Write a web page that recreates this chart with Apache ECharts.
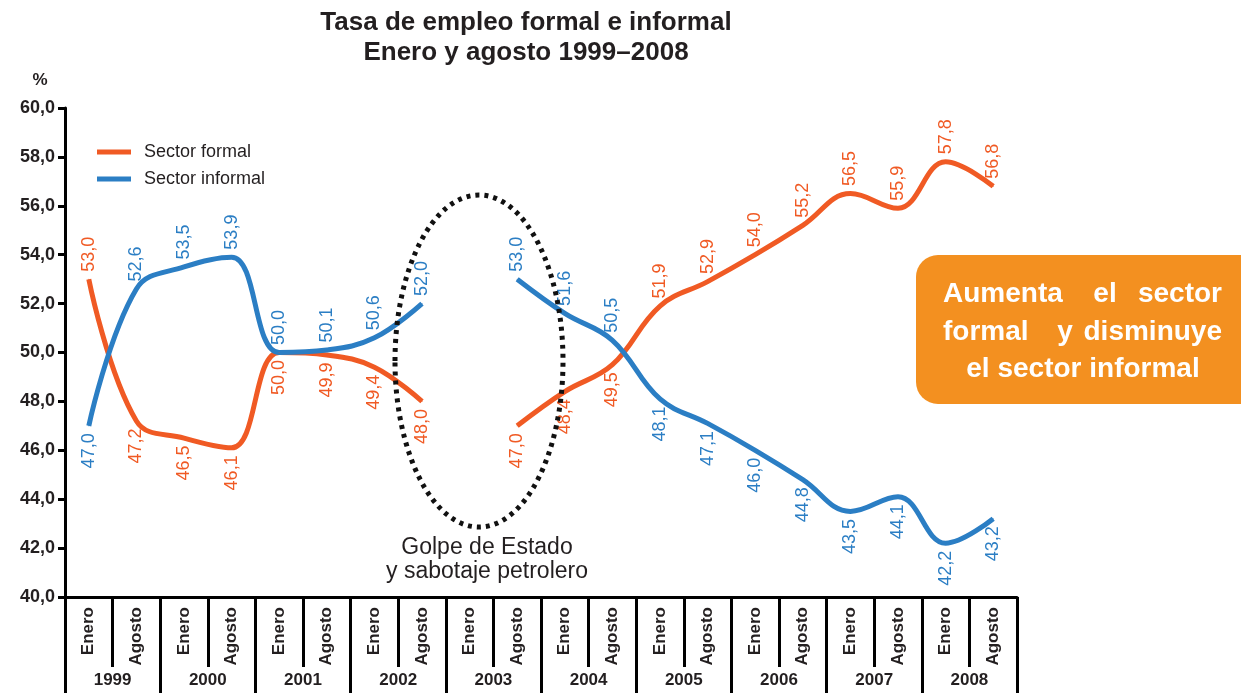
<!DOCTYPE html>
<html>
<head>
<meta charset="utf-8">
<script src="https://cdn.jsdelivr.net/npm/echarts@6/dist/echarts.min.js"></script>
<style>
  html, body { margin: 0; padding: 0; background: #fff; }
  #main { width: 1241px; height: 693px; }
</style>
</head>
<body>
<div id="main"></div>
<script>
var meses = ['Enero', 'Agosto', 'Enero', 'Agosto', 'Enero', 'Agosto', 'Enero', 'Agosto', 'Enero', 'Agosto',
             'Enero', 'Agosto', 'Enero', 'Agosto', 'Enero', 'Agosto', 'Enero', 'Agosto', 'Enero', 'Agosto'];
var anios = ['1999', '2000', '2001', '2002', '2003', '2004', '2005', '2006', '2007', '2008'];
var formal = [53.0, 47.2, 46.5, 46.1, 50.0, 49.9, 49.4, 48.0, null, 47.0,
              48.4, 49.5, 51.9, 52.9, 54.0, 55.2, 56.5, 55.9, 57.8, 56.8];
var informal = [47.0, 52.6, 53.5, 53.9, 50.0, 50.1, 50.6, 52.0, null, 53.0,
                51.6, 50.5, 48.1, 47.1, 46.0, 44.8, 43.5, 44.1, 42.2, 43.2];

var ROJO = '#f05a24';
var AZUL = '#2b7ec4';
var fuente = '"Liberation Sans", Arial, sans-serif';

// etiqueta girada arriba o abajo del punto
function conEtiqueta(arr, arriba) {
    return arr.map(function (v, i) {
        if (v === null) return null;
        var up = arriba(i);
        return {
            value: v,
            label: {
                position: up ? 'top' : 'bottom',
                align: up ? 'left' : 'right',
                verticalAlign: 'middle'
            }
        };
    });
}

var coma = function (p) { return p.value.toFixed(1).replace('.', ','); };

var myChart = echarts.init(document.getElementById('main'));

var cajaFont = 'bold 28px ' + fuente;

var option = {
    backgroundColor: '#fff',
    animation: false,
    grid: { left: 65, right: 224, top: 108, bottom: 96, containLabel: false },
    legend: {
        orient: 'vertical',
        left: 92,
        top: 138,
        itemGap: 9,
        icon: 'rect',
        itemWidth: 34,
        itemHeight: 5,
        textStyle: { fontFamily: fuente, fontSize: 18, color: '#231f20', padding: [0, 0, 0, 8] },
        data: ['Sector formal', 'Sector informal']
    },
    xAxis: [{
        type: 'category',
        data: meses,
        position: 'bottom',
        axisLine: { lineStyle: { color: '#000', width: 3 } },
        axisTick: { show: true, interval: 0, length: 70, lineStyle: { color: '#000', width: 3 } },
        axisLabel: {
            interval: 0, rotate: 90, margin: 10,
            fontFamily: fuente, fontWeight: 'bold', fontSize: 17, color: '#231f20'
        }
    }, {
        type: 'category',
        data: anios,
        position: 'bottom',
        axisLine: { show: false },
        axisTick: { show: true, interval: 0, length: 96, lineStyle: { color: '#000', width: 3 } },
        axisLabel: {
            interval: 0, margin: 75,
            fontFamily: fuente, fontWeight: 'bold', fontSize: 17, color: '#231f20'
        }
    }],
    yAxis: {
        type: 'value',
        min: 40,
        max: 60,
        interval: 2,
        splitLine: { show: false },
        axisLine: { show: true, lineStyle: { color: '#000', width: 3 } },
        axisTick: { show: true, length: 7, lineStyle: { color: '#000', width: 3 } },
        axisLabel: {
            margin: 10,
            fontFamily: fuente, fontWeight: 'bold', fontSize: 18, color: '#231f20',
            formatter: function (v) { return v.toFixed(1).replace('.', ','); }
        }
    },
    series: [{
        name: 'Sector formal',
        type: 'line',
        smooth: 0.4,
        connectNulls: false,
        showSymbol: true,
        symbol: 'circle',
        symbolSize: 1,
        lineStyle: { color: ROJO, width: 5 },
        itemStyle: { color: ROJO },
        label: {
            show: true, rotate: 90, distance: 7,
            fontFamily: fuente, fontSize: 18, color: ROJO, formatter: coma
        },
        data: conEtiqueta(formal, function (i) { return i === 0 || i >= 12; })
    }, {
        name: 'Sector informal',
        type: 'line',
        smooth: 0.4,
        connectNulls: false,
        showSymbol: true,
        symbol: 'circle',
        symbolSize: 1,
        lineStyle: { color: AZUL, width: 5 },
        itemStyle: { color: AZUL },
        label: {
            show: true, rotate: 90, distance: 7,
            fontFamily: fuente, fontSize: 18, color: AZUL, formatter: coma
        },
        data: conEtiqueta(informal, function (i) { return i >= 1 && i <= 11; })
    }],
    graphic: [
        {
            type: 'text', x: 526, y: 23,
            style: { text: 'Tasa de empleo formal e informal', textAlign: 'center', textVerticalAlign: 'middle',
                     font: 'bold 26px ' + fuente, fill: '#231f20' }
        },
        {
            type: 'text', x: 526, y: 53,
            style: { text: 'Enero y agosto 1999\u20132008', textAlign: 'center', textVerticalAlign: 'middle',
                     font: 'bold 26px ' + fuente, fill: '#231f20' }
        },
        {
            type: 'text', x: 40, y: 80,
            style: { text: '%', textAlign: 'center', textVerticalAlign: 'middle', font: 'bold 17px ' + fuente, fill: '#231f20' }
        },
        {
            type: 'ellipse', z: 10,
            shape: { cx: 479, cy: 361, rx: 84, ry: 166 },
            style: { fill: 'none', stroke: '#111', lineWidth: 5, lineDash: [4, 5] }
        },
        {
            type: 'text', x: 487, y: 560,
            style: { text: 'Golpe de Estado\ny sabotaje petrolero', textAlign: 'center', textVerticalAlign: 'middle',
                     font: '23px ' + fuente, fill: '#231f20', lineHeight: 24 }
        },
        {
            type: 'rect', z: 5,
            shape: { x: 916, y: 255, width: 345, height: 149, r: 22 },
            style: { fill: '#f39020' }
        },
        { type: 'text', z: 6, x: 943, y: 294, style: { text: 'Aumenta', textAlign: 'left', textVerticalAlign: 'middle', font: cajaFont, fill: '#fff' } },
        { type: 'text', z: 6, x: 1105, y: 294, style: { text: 'el', textAlign: 'center', textVerticalAlign: 'middle', font: cajaFont, fill: '#fff' } },
        { type: 'text', z: 6, x: 1222, y: 294, style: { text: 'sector', textAlign: 'right', textVerticalAlign: 'middle', font: cajaFont, fill: '#fff' } },
        { type: 'text', z: 6, x: 943, y: 332, style: { text: 'formal', textAlign: 'left', textVerticalAlign: 'middle', font: cajaFont, fill: '#fff' } },
        { type: 'text', z: 6, x: 1065, y: 332, style: { text: 'y', textAlign: 'center', textVerticalAlign: 'middle', font: cajaFont, fill: '#fff' } },
        { type: 'text', z: 6, x: 1222, y: 332, style: { text: 'disminuye', textAlign: 'right', textVerticalAlign: 'middle', font: cajaFont, fill: '#fff' } },
        { type: 'text', z: 6, x: 1083, y: 369, style: { text: 'el sector informal', textAlign: 'center', textVerticalAlign: 'middle', font: cajaFont, fill: '#fff' } }
    ]
};

myChart.setOption(option);
window.addEventListener('resize', function () {
    myChart.resize();
});
</script>
</body>
</html>
